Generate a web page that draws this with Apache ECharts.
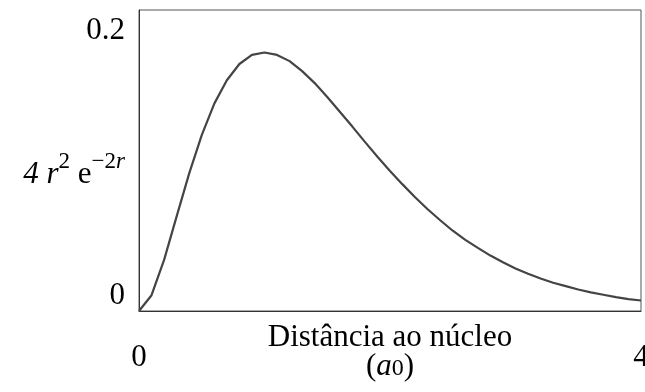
<!DOCTYPE html>
<html>
<head>
<meta charset="utf-8">
<script src="https://cdn.jsdelivr.net/npm/echarts@6/dist/echarts.min.js"></script>
<style>
  html, body { margin: 0; padding: 0; background: #fff; }
  #chart { width: 645px; height: 392px; }
</style>
</head>
<body>
<div id="chart"></div>
<script>
// distance r (units of a0), sampled every 0.1
const distances = [0, 0.1, 0.2, 0.3, 0.4, 0.5, 0.6, 0.7, 0.8, 0.9, 1.0,
  1.1, 1.2, 1.3, 1.4, 1.5, 1.6, 1.7, 1.8, 1.9, 2.0,
  2.1, 2.2, 2.3, 2.4, 2.5, 2.6, 2.7, 2.8, 2.9, 3.0,
  3.1, 3.2, 3.3, 3.4, 3.5, 3.6, 3.7, 3.8, 3.9, 4.0];
// radial probability
const density = [0, 0.033, 0.107, 0.198, 0.288, 0.368, 0.434, 0.483, 0.517, 0.536, 0.541,
  0.536, 0.523, 0.502, 0.477, 0.448, 0.417, 0.386, 0.354, 0.323, 0.293,
  0.265, 0.238, 0.213, 0.190, 0.168, 0.149, 0.132, 0.116, 0.102, 0.089,
  0.078, 0.068, 0.059, 0.052, 0.045, 0.039, 0.034, 0.029, 0.025, 0.022];
const xTickLabels = [0, 4];
const yTickLabels = [0, 0.2];

const serif = 'Liberation Serif, Times New Roman, serif';
const chart = echarts.init(document.getElementById('chart'));

const points = distances.map(function (r, i) { return [r, density[i]]; });

const option = {
  animation: false,
  grid: {
    left: 139, right: 4, top: 10, bottom: 81,
    outerBoundsMode: 'none',
    containLabel: false,
    show: true, borderColor: '#555', borderWidth: 1
  },
  xAxis: {
    type: 'value',
    min: 0,
    max: 4,
    axisLine: { show: true, lineStyle: { color: '#333', width: 1 } },
    axisTick: { show: false },
    splitLine: { show: false },
    axisLabel: {
      customValues: xTickLabels,
      margin: 31,
      fontFamily: serif,
      fontSize: 31,
      color: '#000'
    },
    name: '{t|Distância ao núcleo}\n{p|(}{a|a}{s|0}{p|)}',
    nameLocation: 'middle',
    nameGap: 12,
    nameMoveOverlap: false,
    nameTextStyle: {
      verticalAlign: 'top',
      rich: {
        t: { fontFamily: serif, fontSize: 31, color: '#000', lineHeight: 29 },
        p: { fontFamily: serif, fontSize: 31, color: '#000', lineHeight: 29 },
        a: { fontFamily: serif, fontSize: 31, fontStyle: 'italic', color: '#000', lineHeight: 29 },
        s: { fontFamily: serif, fontSize: 24, color: '#000', lineHeight: 29, verticalAlign: 'bottom' }
      }
    }
  },
  yAxis: [{
    type: 'value',
    min: 0,
    max: 0.63,
    axisLine: { show: true, lineStyle: { color: '#333', width: 1 } },
    axisTick: { show: false },
    axisLabel: { show: false },
    splitLine: { show: false }
  }, {
    type: 'value',
    position: 'left',
    offset: 0,
    min: -0.0113,
    max: 0.2154,
    axisLine: { show: false },
    axisTick: { show: false },
    splitLine: { show: false },
    axisLabel: {
      customValues: yTickLabels,
      margin: 14,
      fontFamily: serif,
      fontSize: 31,
      color: '#000'
    }
  }],
  graphic: [{
    type: 'text',
    right: 520,
    top: 150,
    style: {
      text: '{i|4 r}{u|2}{m| e}{u|−2}{ui|r}',
      rich: {
        i: { fontFamily: serif, fontSize: 31, fontStyle: 'italic', color: '#000', verticalAlign: 'bottom', lineHeight: 40 },
        m: { fontFamily: serif, fontSize: 31, color: '#000', verticalAlign: 'bottom', lineHeight: 40 },
        u: { fontFamily: serif, fontSize: 23, color: '#000', verticalAlign: 'top', lineHeight: 40, padding: [0, 0, 4, 0] },
        ui: { fontFamily: serif, fontSize: 23, fontStyle: 'italic', color: '#000', verticalAlign: 'top', lineHeight: 40, padding: [0, 0, 4, 0] }
      }
    }
  }],
  series: [{
    type: 'line',
    yAxisIndex: 0,
    data: points,
    showSymbol: false,
    smooth: false,
    lineStyle: { color: '#444', width: 2.2 }
  }]
};
chart.setOption(option);
</script>
</body>
</html>
